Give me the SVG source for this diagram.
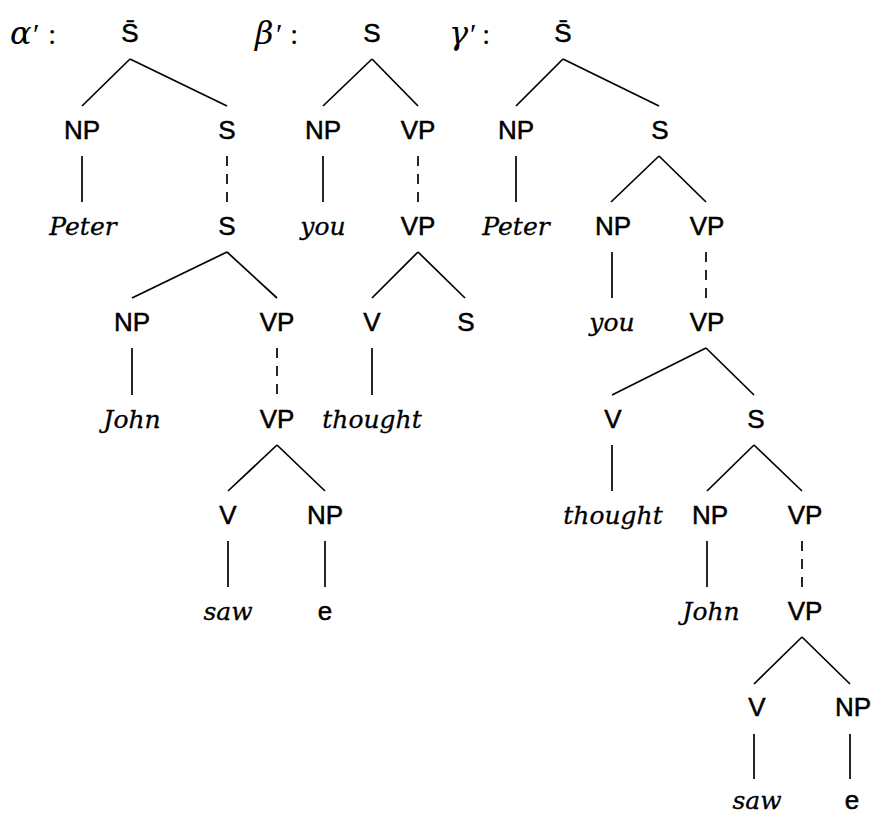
<svg xmlns="http://www.w3.org/2000/svg" width="872" height="816" viewBox="0 0 872 816">
<style>
.c{font-family:"Liberation Sans","DejaVu Sans",sans-serif;font-size:26px;fill:#000;stroke:#000;stroke-width:0.5;text-anchor:middle}
.w{font-family:"DejaVu Serif","Liberation Serif",serif;font-style:italic;font-size:25px;fill:#000;stroke:#000;stroke-width:0.3;text-anchor:middle}
.g{font-family:"Liberation Serif","DejaVu Serif",serif;font-size:30px;fill:#000}
.g .i{font-family:"DejaVu Serif","Liberation Serif",serif;font-style:italic;font-size:32px}
.e line{stroke:#000;stroke-width:1.7;fill:none}
.e line.d{stroke-dasharray:10 8}
</style>
<rect width="872" height="816" fill="#fff"/>
<g id="labels">
<text class="g" y="44"><tspan class="i" x="10">α</tspan><tspan x="33">′</tspan><tspan x="48">:</tspan></text>
<text class="g" y="44"><tspan class="i" x="255">β</tspan><tspan x="276">′</tspan><tspan x="290">:</tspan></text>
<text class="g" y="44"><tspan class="i" x="449">γ</tspan><tspan x="470">′</tspan><tspan x="482">:</tspan></text>
</g>
<g class="e" id="connectors">
<line x1="130" y1="59" x2="82" y2="106"/>
<line x1="130" y1="59" x2="227" y2="106"/>
<line x1="82" y1="156" x2="82" y2="202"/>
<line class="d" x1="227" y1="156" x2="227" y2="202"/>
<line x1="227" y1="252" x2="132" y2="298"/>
<line x1="227" y1="252" x2="277" y2="298"/>
<line x1="132" y1="348" x2="132" y2="395"/>
<line class="d" x1="277" y1="348" x2="277" y2="395"/>
<line x1="277" y1="445" x2="228" y2="491"/>
<line x1="277" y1="445" x2="325" y2="491"/>
<line x1="228" y1="541" x2="228" y2="587"/>
<line x1="325" y1="541" x2="325" y2="587"/>
<line x1="372" y1="59" x2="323" y2="106"/>
<line x1="372" y1="59" x2="418" y2="106"/>
<line x1="323" y1="156" x2="323" y2="202"/>
<line class="d" x1="418" y1="156" x2="418" y2="202"/>
<line x1="418" y1="252" x2="372" y2="298"/>
<line x1="418" y1="252" x2="465" y2="298"/>
<line x1="372" y1="348" x2="372" y2="395"/>
<line x1="563" y1="59" x2="516" y2="106"/>
<line x1="563" y1="59" x2="659" y2="106"/>
<line x1="516" y1="156" x2="516" y2="202"/>
<line x1="659" y1="156" x2="611" y2="202"/>
<line x1="659" y1="156" x2="706" y2="202"/>
<line x1="612" y1="252" x2="612" y2="298"/>
<line class="d" x1="706" y1="252" x2="706" y2="298"/>
<line x1="706" y1="348" x2="612" y2="395"/>
<line x1="706" y1="348" x2="754" y2="395"/>
<line x1="612" y1="445" x2="612" y2="491"/>
<line x1="754" y1="445" x2="707" y2="491"/>
<line x1="754" y1="445" x2="802" y2="491"/>
<line x1="707" y1="541" x2="707" y2="587"/>
<line class="d" x1="802" y1="541" x2="802" y2="587"/>
<line x1="802" y1="637" x2="754" y2="684"/>
<line x1="802" y1="637" x2="850" y2="684"/>
<line x1="754" y1="734" x2="754" y2="779"/>
<line x1="850" y1="734" x2="850" y2="779"/>
</g>
<g id="a0"><text class="c" x="130" y="42">S̄</text></g>
<g id="a1"><text class="c" x="82" y="139">NP</text></g>
<g id="a2"><text class="c" x="227" y="139">S</text></g>
<g id="a3"><text class="w" x="83" y="235">Peter</text></g>
<g id="a4"><text class="c" x="227" y="235">S</text></g>
<g id="a5"><text class="c" x="132" y="331">NP</text></g>
<g id="a6"><text class="c" x="277" y="331">VP</text></g>
<g id="a7"><text class="w" x="132" y="428">John</text></g>
<g id="a8"><text class="c" x="277" y="428">VP</text></g>
<g id="a9"><text class="c" x="228" y="524">V</text></g>
<g id="a10"><text class="c" x="325" y="524">NP</text></g>
<g id="a11"><text class="w" x="228" y="620">saw</text></g>
<g id="a12"><text class="c" x="325" y="620">e</text></g>
<g id="b0"><text class="c" x="372" y="42">S</text></g>
<g id="b1"><text class="c" x="323" y="139">NP</text></g>
<g id="b2"><text class="c" x="418" y="139">VP</text></g>
<g id="b3"><text class="w" x="323" y="235">you</text></g>
<g id="b4"><text class="c" x="418" y="235">VP</text></g>
<g id="b5"><text class="c" x="372" y="331">V</text></g>
<g id="b6"><text class="c" x="466" y="331">S</text></g>
<g id="b7"><text class="w" x="372" y="428">thought</text></g>
<g id="g0"><text class="c" x="563" y="42">S̄</text></g>
<g id="g1"><text class="c" x="516" y="139">NP</text></g>
<g id="g2"><text class="c" x="660" y="139">S</text></g>
<g id="g3"><text class="w" x="516" y="235">Peter</text></g>
<g id="g4"><text class="c" x="613" y="235">NP</text></g>
<g id="g5"><text class="c" x="707" y="235">VP</text></g>
<g id="g6"><text class="w" x="612" y="331">you</text></g>
<g id="g7"><text class="c" x="707" y="331">VP</text></g>
<g id="g8"><text class="c" x="613" y="428">V</text></g>
<g id="g9"><text class="c" x="756" y="428">S</text></g>
<g id="g10"><text class="w" x="613" y="524">thought</text></g>
<g id="g11"><text class="c" x="710" y="524">NP</text></g>
<g id="g12"><text class="c" x="805" y="524">VP</text></g>
<g id="g13"><text class="w" x="711" y="620">John</text></g>
<g id="g14"><text class="c" x="805" y="620">VP</text></g>
<g id="g15"><text class="c" x="757" y="716">V</text></g>
<g id="g16"><text class="c" x="853" y="716">NP</text></g>
<g id="g17"><text class="w" x="757" y="809">saw</text></g>
<g id="g18"><text class="c" x="852" y="809">e</text></g>
</svg>
